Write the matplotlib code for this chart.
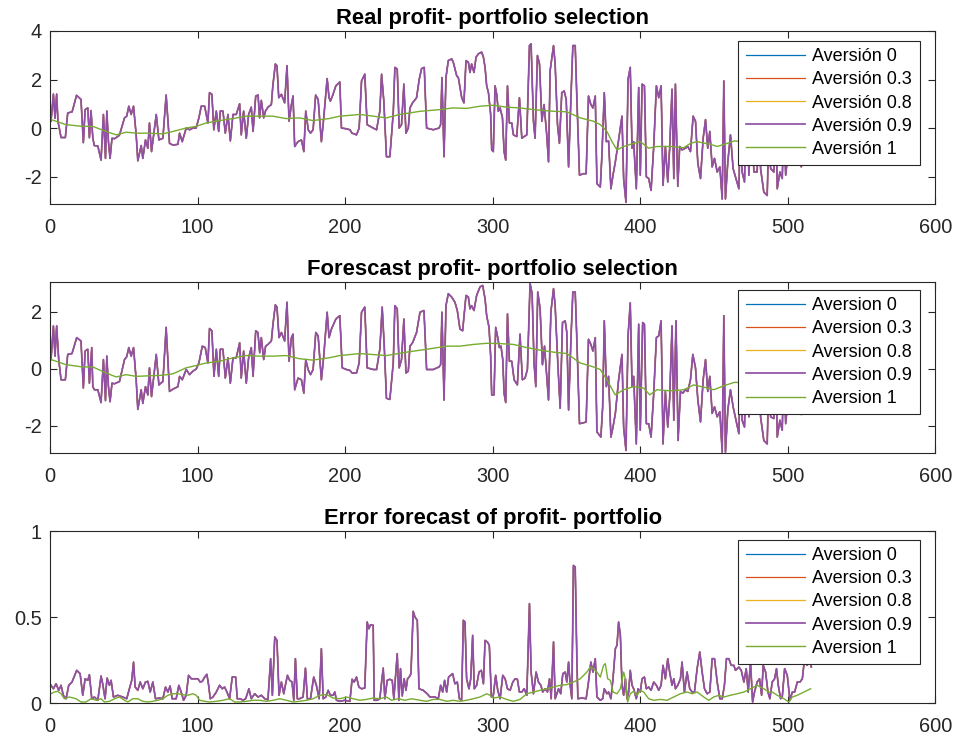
import matplotlib
matplotlib.use("Agg")
import matplotlib.pyplot as plt

plt.rcParams["font.family"] = ["Liberation Sans", "DejaVu Sans"]

# ---- data (x = sample index, y = value) ----
real_purple = [
    (0.7, 0.28), (2.3, 1.4), (3.4, 0.4), (4.5, 1.4), (5.4, 0.28), (7.5, -0.39), (10.4, -0.39), (12, 0.62),
    (15, 0.67), (18, 1.35), (21, 1.18), (22.6, -0.6), (23.8, 0.76), (25.6, 0.83), (26.7, -0.4), (27.8, 0.72),
    (29, -0.4), (30, -0.72), (32.4, -0.74), (34.6, -1.32), (36.2, 0.56), (37.6, -1.25), (38.5, 0.7),
    (39.6, -0.56), (40.7, -1.25), (42, -0.42), (43.7, -0.44), (47, -0.3), (50.5, 0.42), (52, 0.49),
    (53.4, 0.9), (55, 0.56), (56.6, 0.9), (58.4, -0.28), (59.5, -1.35), (61.8, -0.72), (62.9, -1.25),
    (64.7, -0.49), (66.3, -0.83), (67.4, 0.21), (68.8, -0.97), (72, 0.56), (73.8, -0.49), (76.5, -0.42),
    (78.7, 1.36), (81, -0.63), (83.3, -0.7), (86.7, -0.67), (87.8, -0.21), (89.6, -0.56), (92.3, 0),
    (94.6, -0.07), (96.8, 0), (99, 0), (100.9, 0.42), (102.5, 0.9), (104.8, 0.9), (107, 0.21), (108.1, 1.46),
    (109.7, 1.39), (111, -0.07), (112.7, 0.7), (114.3, -0.14), (115.4, 0.7), (117.2, 0.7), (118.8, -0.21),
    (120.6, 0.56), (122.2, -0.53), (124, 0.56), (126.2, 0.56), (128.5, 1.0), (129.6, -0.28), (131.2, 0.7),
    (133, -0.42), (134.6, 0.56), (136.4, 0.86), (137.6, -0.14), (139.4, 1.32), (141, 1.36), (142, 0.42),
    (143.2, 1.14), (144.8, 0.42), (146, 0.7), (147.7, 0.86), (150, 0.97), (151, 1.74), (152.7, 2.64),
    (153.8, 2.57), (155, 1.25), (156.8, 1.39), (159, 1.04), (160.6, 2.57), (162, 0.28), (163.6, 0.97),
    (164.7, 1.32), (165.8, -0.76), (168, -0.56), (170.4, -0.49), (172, -0.97), (173.3, 0.7), (175, -0.07),
    (176.5, -0.21), (178.3, -0.07), (180, 1.36), (181.7, 1.18),
    (183.9, -0.56), (185.5, 0.42), (187.8, 2.04), (189.1, 1.25), (190.0, 1.11), (191.8, 1.39), (193.7, 1.74),
    (196.4, 1.90), (197.5, 0.0), (200.9, -0.03), (203.2, -0.07), (204.7, -0.21), (207.7, -0.28), (209.5, 0.0),
    (211.1, 1.94), (213.3, 2.22), (214.9, 0.14), (219.0, 0.0), (221.3, -0.07), (223.5, 0.69), (224.7, 2.22),
    (226.2, 1.11), (228.0, -1.18), (230.3, -1.18), (232.6, 0.63), (233.7, 2.50), (235.3, 2.43), (236.6, 0.0),
    (238.2, 0.14), (239.8, 1.81), (241.2, -0.21), (242.8, 0.0), (243.9, 0.83), (245.7, 1.04), (248.4, 1.25),
    (250.2, 2.01), (251.8, 2.45), (253.6, 2.5), (255.2, 0.0), (259.7, -0.07), (263.6, 0.0), (264.7, 0.14),
    (265.6, 2.08), (267.0, -1.18), (268.3, 2.08), (269.9, 2.78), (272.2, 2.85), (273.3, 2.71), (275.6, 2.15),
    (276.7, 2.08), (279.0, 1.25), (280.5, 1.04), (281.9, 2.78), (283.5, 2.71), (284.6, 2.29), (285.7, 2.64),
    (287.3, 2.29), (288.7, 2.92), (290.3, 3.06), (292.5, 3.13), (293.7, 2.92), (294.8, 2.50), (295.9, 1.74),
    (297.1, 1.46), (298.6, 0.56), (299.3, -0.90), (300.4, -0.97), (301.6, 1.74), (302.7, 1.39), (303.8, 0.69),
    (305.0, 0.83), (306.6, 0.42), (307.7, -0.97), (308.8, -1.32), (310.0, 1.74), (311.3, 0.21), (312.9, 0.21),
    (314.0, -0.28), (316.3, -0.35), (318.1, 1.25), (319.7, -0.42), (321.3, -0.35), (323.1, -0.28),
    (324.9, 3.40), (326.0, 3.47), (327.6, 0.28), (328.7, -0.42), (330.3, 2.99), (331.7, 2.64), (333.3, 0.28),
    (334.8, 0.97), (336.6, -0.28), (337.8, -1.39), (338.9, 2.36), (341.2, 3.40), (342.3, 2.64), (343.9, 0.14),
    (345.2, -0.63), (346.8, 1.46), (348.4, 1.53), (349.8, 1.18), (351.4, -1.60), (353.0, 1.25), (354.3, 3.40),
    (355.9, 3.40), (357.0, 1.25), (358.8, -1.94), (361.5, -1.88), (363.3, -1.88), (364.9, 1.32), (366.5, 0.97),
    (367.9, 0.83), (369.5, 1.32),
    (370.6, -2.29), (372.9, -2.43), (374.0, -1.11), (375.6, 1.46), (377.0, -0.56), (378.5, -0.53),
    (380.1, -2.50), (381.5, -1.94), (383.1, -1.39), (385.3, -0.49), (387.6, 0.49), (388.7, -2.08),
    (390.3, -3.06), (391.7, 2.01), (393.2, 2.50), (394.4, -0.83), (395.5, -0.56), (397.3, -2.50), (398.9, 1.67),
    (400.0, -1.94), (401.2, 1.81), (402.8, 1.74), (404.1, -2.01), (405.7, -2.08), (407.3, -2.57), (409.1, -0.76),
    (410.9, 1.74), (412.5, 1.25), (414.1, 1.74), (415.4, -2.36), (417.0, -0.76), (418.6, -2.22), (419.9, -0.83),
    (421.5, 1.60), (422.7, -2.08), (423.8, 1.81), (425.4, -2.4), (426.7, -0.76), (428.3, -0.90), (430.6, -0.83),
    (432.2, -0.76), (434.0, -0.97), (435.8, 0.49), (437.4, 0.28), (439.0, -1.46), (440.8, -2.08), (442.6, -0.42),
    (444.2, 0.35), (445.7, -0.83), (447.1, -0.14), (448.7, -1.60), (450.3, -1.25), (452.1, -1.81), (453.9, -1.60),
    (455.5, -2.92), (456.6, 1.94), (457.7, -2.92), (459.3, -1.39), (461.1, -0.28), (462.9, -1.67), (466.8, -2.50),
    (467.9, 0.5), (469.0, -1.81), (470.6, -2.22), (472.0, 1.2), (473.6, -1.94), (475.1, 0.6), (477.0, -1.81),
    (479.2, -1.81), (480.4, 1.9), (481.5, -1.67), (483.7, -2.64), (486.0, -2.78), (487.1, -0.1), (488.3, -1.67),
    (490.5, -1.81), (491.7, 1.3), (492.8, -2.50), (494.6, -1.81), (496.2, -2.08), (497.3, 0.5), (498.5, -1.94),
    (501.8, -0.1), (505.2, -0.8), (509.1, -1.60), (512.0, -0.56), (514.3, -0.8),
]

real_green = [
    (0.7, 0.35), (10.9, 0.14), (22, 0.07), (29, 0.07), (38, -0.14), (44.8, -0.28), (51.6, -0.17), (58.4, -0.21),
    (67.4, -0.21), (76.5, -0.24), (83.3, -0.14), (92.3, 0), (99, 0.07), (105.9, 0.21), (114.9, 0.31), (124, 0.39),
    (133, 0.49), (142, 0.49), (151, 0.49), (160, 0.39), (169, 0.42), (178, 0.31), (189, 0.39), (196.4, 0.49),
    (210, 0.56), (228, 0.42), (237, 0.56), (250.7, 0.69), (264.2, 0.76), (273.3, 0.83), (282.3, 0.81),
    (291.4, 0.90), (300.4, 0.94), (309.5, 0.86), (318.5, 0.83), (327.6, 0.76), (341.2, 0.69), (350.2, 0.67),
    (359.3, 0.42), (368.3, 0.28), (372.9, 0.14), (377.4, -0.14), (380.8, -0.56), (384.2, -0.90), (388.7, -0.76),
    (395.5, -0.63), (400, -0.56), (405.7, -0.83), (411.3, -0.76), (420.4, -0.76), (429.4, -0.81), (434, -0.63),
    (438.5, -0.56), (447.5, -0.67), (452.1, -0.76), (458.9, -0.63), (463.8, -0.53), (475, -0.6), (490, -0.7),
    (505, -0.65), (515, -0.6),
]

fcst_purple = [
    (0.7, 0.33), (2.3, 1.51), (3.4, 0.45), (4.5, 1.51), (5.9, 0.33), (7.5, -0.38), (10.4, -0.38), (12.0, 0.51),
    (14.9, 0.54), (18.1, 1.10), (21.0, 0.98), (22.6, -0.67), (23.8, 0.63), (25.6, 0.69), (26.7, -0.50),
    (28.3, 0.75), (29.0, -0.62), (30.1, -0.73), (32.4, -0.73), (34.6, -1.18), (36.2, 0.33), (37.6, -1.11),
    (38.5, 0.45), (39.6, -0.62), (40.7, -1.15), (42.0, -0.50), (43.7, -0.52), (47.1, -0.44), (50.5, 0.33),
    (52.0, 0.43), (53.4, 0.75), (55.0, 0.45), (56.6, 0.75), (58.4, -0.38), (59.5, -1.42), (61.8, -0.73),
    (62.9, -1.21), (64.7, -0.62), (66.3, -0.91), (67.4, 0.04), (68.8, -0.97), (72.0, 0.51), (73.8, -0.56),
    (76.5, -0.44), (78.7, 1.46), (81.0, -0.79), (83.3, -0.71), (86.7, -0.62), (87.8, -0.26), (89.6, -0.38),
    (92.3, -0.02), (94.6, -0.20), (96.8, -0.08), (99.1, 0.0), (100.9, 0.21), (103.2, 0.80), (105.2, 0.75),
    (107.0, 0.21), (108.1, 1.42), (109.7, 1.34), (111.1, -0.26), (112.7, 0.69), (114.3, -0.26), (115.4, 0.69),
    (117.2, 0.69), (118.8, -0.32), (120.6, 0.39), (122.2, -0.50), (124.0, 0.39), (126.2, 0.39), (128.5, 0.92),
    (129.6, -0.32), (131.2, 0.63), (133.0, -0.50), (134.6, 0.39), (136.4, 0.75), (137.6, -0.26), (139.4, 1.34),
    (140.9, 1.28), (142.1, 0.57), (143.2, 1.10), (144.8, 0.33), (146.1, 0.80), (147.7, 0.86), (150.0, 0.98),
    (151.1, 1.57), (152.7, 2.25), (153.8, 2.17), (155.2, 1.10), (156.8, 1.28), (159.0, 0.98), (160.6, 2.34),
    (162.0, 0.27), (163.6, 1.10), (164.7, 1.22), (165.8, -0.73), (168.1, -0.32), (170.4, -0.38), (172.0, -0.85),
    (173.3, 0.33), (174.9, -0.02), (176.5, -0.20), (178.3, -0.02), (180.1, 1.28), (181.7, 1.16),
    (183.9, -0.38), (185.5, 0.45), (187.8, 1.99), (189.1, 1.10), (190.7, 1.40), (193.7, 1.75), (196.4, 1.87),
    (198.0, 0.04), (200.9, -0.02), (203.2, -0.05), (204.7, -0.14), (207.7, -0.14), (209.5, 0.21), (211.1, 1.99),
    (213.3, 2.17), (214.9, 0.04), (219.0, -0.02), (221.3, -0.02), (223.5, 0.69), (225.1, 2.17), (226.5, 0.80),
    (228.0, -1.03), (230.3, -1.07), (232.6, 0.21), (233.7, 2.22), (235.3, 2.11), (236.6, 0.04), (238.2, 0.33),
    (239.8, 1.75), (241.2, -0.14), (242.8, -0.08), (243.9, 0.80), (245.7, 0.92), (248.4, 1.28), (250.7, 1.99),
    (253.4, 2.05), (255.2, -0.02), (259.7, -0.02), (263.6, 0.07), (264.7, 0.15), (265.6, 1.99), (267.0, -1.09),
    (268.3, 2.22), (269.9, 2.64), (272.2, 2.52), (274.4, 2.34), (276.0, 2.05), (277.8, 1.40), (279.6, 1.34),
    (281.9, 2.58), (283.5, 2.52), (284.6, 2.11), (285.7, 2.22), (287.3, 2.05), (289.1, 2.58), (291.4, 2.88),
    (293.2, 2.93), (294.8, 2.46), (295.9, 1.87), (297.5, 1.46), (298.6, 0.45), (299.3, -0.91), (300.9, -0.91),
    (302.0, 1.46), (303.4, 1.10), (304.5, 0.75), (305.6, 0.80), (306.8, 0.33), (307.7, -0.85), (308.8, -1.18),
    (310.0, 1.93), (311.3, 0.27), (312.9, 0.27), (314.5, -0.38), (316.7, -0.56), (318.5, 1.22), (320.1, -0.38),
    (321.9, -0.32), (323.5, -0.02), (325.3, 3.0), (326.7, 2.64), (328.0, 0.21), (329.2, -0.62), (330.5, 2.70),
    (332.1, 2.11), (333.7, 0.15), (335.1, 0.80), (336.6, -0.26), (337.8, -1.09), (339.4, 1.99), (341.2, 2.82),
    (342.3, 2.22), (344.1, 0.21), (345.7, -1.38), (347.3, 1.63), (349.1, 1.69), (350.2, 1.28), (351.4, -1.44),
    (353.0, 1.04), (354.3, 2.70), (355.9, 2.70), (357.0, 1.04), (358.8, -1.92), (361.5, -1.89), (363.3, -1.86),
    (364.9, 1.04), (366.5, 0.86), (367.9, 0.63), (369.5, 1.10),
    (370.6, -2.21), (373.3, -2.39), (374.5, -1.33), (375.6, 1.69), (377.0, -0.62), (378.5, -0.26),
    (380.1, -2.39), (381.5, -2.04), (383.1, -1.56), (385.3, -0.38), (387.6, 0.51), (388.7, -2.04),
    (390.3, -2.86), (391.7, 1.16), (393.2, 2.32), (394.4, -0.62), (395.5, -0.26), (397.3, -2.63), (398.9, 1.57),
    (400.0, -2.15), (401.6, 1.63), (402.8, 1.57), (404.1, -1.92), (405.7, -1.92), (407.3, -2.39), (409.1, -0.85),
    (410.9, 1.10), (412.5, 1.16), (414.1, 1.69), (415.4, -2.63), (417.0, -0.79), (418.6, -2.04), (419.9, -1.03),
    (421.5, 1.51), (422.7, -1.80), (424.2, 1.69), (425.6, -2.51), (427.2, -0.79), (428.8, -0.85), (430.6, -0.73),
    (432.2, -0.79), (434.0, -0.38), (435.6, 0.51), (437.4, 0.04), (439.0, -1.09), (440.8, -1.86), (442.6, -0.38),
    (444.2, 0.33), (445.7, -0.79), (447.1, -0.26), (448.7, -1.56), (450.3, -1.33), (452.1, -1.68), (453.9, -1.50),
    (455.5, -2.92), (456.6, 1.87), (457.7, -2.92), (459.3, -1.44), (461.1, -0.73), (462.9, -1.33), (466.8, -2.27),
    (467.9, 0.4), (469.0, -1.80), (470.6, -2.04), (472.0, 1.0), (473.6, -1.68), (475.1, 0.5), (477.0, -1.56),
    (479.2, -1.56), (480.4, 1.6), (481.5, -1.68), (483.7, -2.51), (486.0, -2.63), (487.1, -0.2), (488.3, -1.68),
    (490.5, -1.74), (491.7, 1.1), (492.8, -2.39), (494.6, -1.80), (496.2, -2.15), (497.3, 0.4), (498.5, -1.92),
    (501.8, -0.2), (505.2, -0.9), (509.1, -1.6), (512.0, -0.6), (514.3, -0.9),
]

fcst_green = [
    (0.7, 0.33), (10.9, 0.15), (22, 0.07), (29, 0.07), (38, -0.14), (44.8, -0.28), (51.6, -0.20), (58.4, -0.26),
    (67.4, -0.24), (76.5, -0.22), (83.3, -0.17), (92.3, 0.04), (99, 0.12), (105.9, 0.21), (114.9, 0.27),
    (124, 0.39), (133, 0.47), (142, 0.45), (151, 0.45), (160, 0.47), (169, 0.36), (178, 0.31), (189, 0.39),
    (196.4, 0.47), (210, 0.54), (228, 0.47), (241.6, 0.59), (255.2, 0.69), (268.8, 0.80), (277.8, 0.80),
    (286.9, 0.86), (295.9, 0.90), (305, 0.89), (314, 0.86), (323.1, 0.75), (332.1, 0.66), (341.2, 0.59),
    (350.2, 0.54), (359.3, 0.21), (368.3, 0.07), (372.9, -0.02), (377.4, -0.38), (383, -0.91), (388.7, -0.73),
    (395.5, -0.62), (402.3, -0.67), (406.4, -0.91), (411.3, -0.73), (420.4, -0.77), (429.4, -0.73),
    (436.2, -0.56), (443, -0.64), (449.8, -0.73), (456.6, -0.59), (463.8, -0.47), (475, -0.5), (490, -0.6),
    (505, -0.55), (515, -0.5),
]

err_purple = [
    (0.7, 0.103), (2.3, 0.083), (4.1, 0.112), (5.9, 0.074), (7.5, 0.103), (9.0, 0.045), (10.9, 0.025),
    (12.7, 0.103), (14.9, 0.122), (18.1, 0.190), (20.4, 0.171), (22.2, 0.045), (23.8, 0.141), (25.6, 0.132),
    (26.7, 0.165), (28.3, 0.025), (30.1, 0.035), (32.4, 0.016), (34.6, 0.157), (35.7, 0.112), (37.3, 0.025),
    (38.7, 0.145), (40.3, 0.103), (41.4, 0.132), (43.0, 0.035), (45.9, 0.045), (49.3, 0.035), (52.0, 0.025),
    (53.8, 0.083), (55.4, 0.132), (56.6, 0.238), (57.7, 0.093), (59.5, 0.074), (61.1, 0.122), (62.9, 0.083),
    (64.7, 0.122), (66.3, 0.126), (67.9, 0.064), (69.7, 0.122), (71.5, 0.025), (74.2, 0.029), (76.5, 0.025),
    (78.3, 0.093), (79.9, 0.064), (81.4, 0.099), (82.8, 0.025), (85.5, 0.025), (87.3, 0.103), (88.9, 0.064),
    (90.5, 0.016), (92.3, 0.045), (93.9, 0.161), (95.7, 0.141), (98.6, 0.141), (100.2, 0.141), (101.8, 0.122),
    (103.2, 0.126), (104.8, 0.151), (106.3, 0.167), (107.5, 0.103), (108.6, 0.025), (110.4, 0.035),
    (112.7, 0.064), (114.9, 0.103), (116.7, 0.083), (118.3, 0.093), (119.9, 0.064), (121.7, 0.025),
    (123.5, 0.151), (125.8, 0.151), (126.9, 0.025), (129.0, 0.025), (130.8, 0.016), (132.6, 0.025),
    (134.8, 0.083), (136.4, 0.025), (138.7, 0.054), (141.0, 0.035), (143.2, 0.045), (145.5, 0.025),
    (147.7, 0.019), (149.5, 0.258), (150.7, 0.045), (152.3, 0.384), (153.8, 0.364), (155.2, 0.045),
    (156.8, 0.122), (158.4, 0.054), (159.5, 0.103), (160.9, 0.161), (162.4, 0.132), (164.0, 0.122),
    (165.2, 0.016), (166.3, 0.258), (167.6, 0.025), (169.2, 0.025), (171.5, 0.035), (173.1, 0.203),
    (174.4, 0.025), (176.5, 0.025), (178.7, 0.151), (180.5, 0.103), (182.4, 0.025),
    (183.9, 0.316), (185.1, 0.025), (186.9, 0.035), (188.5, 0.074), (190.0, 0.045), (191.8, 0.045),
    (193.0, 0.064), (194.1, 0.016), (196.4, 0.010), (199.8, 0.016), (203.2, 0.010), (204.7, 0.138),
    (206.1, 0.122), (207.7, 0.151), (209.3, 0.093), (211.1, 0.083), (213.3, 0.087), (214.9, 0.471),
    (216.1, 0.432), (217.2, 0.455), (219.0, 0.452), (219.7, 0.016), (221.7, 0.016), (223.5, 0.025),
    (224.7, 0.122), (225.8, 0.203), (226.9, 0.025), (228.5, 0.132), (230.3, 0.138), (231.9, 0.132),
    (233.0, 0.025), (234.4, 0.180), (235.3, 0.287), (236.4, 0.016), (237.5, 0.200), (238.7, 0.041),
    (240.0, 0.141), (241.2, 0.074), (242.3, 0.141), (243.4, 0.151), (244.6, 0.171), (246.1, 0.533),
    (247.3, 0.500), (248.9, 0.481), (250.0, 0.083), (252.9, 0.074), (255.6, 0.054), (257.5, 0.035),
    (260.9, 0.035), (263.1, 0.025), (264.7, 0.103), (266.1, 0.064), (267.4, 0.132), (268.8, 0.064),
    (270.1, 0.151), (271.5, 0.161), (272.8, 0.171), (274.4, 0.112), (276.0, 0.122), (277.4, 0.025),
    (278.9, 0.016), (280.1, 0.481), (281.2, 0.471), (282.3, 0.141), (283.9, 0.083), (285.1, 0.141),
    (286.4, 0.393), (287.5, 0.083), (289.1, 0.103), (290.7, 0.180), (292.3, 0.190), (293.7, 0.112),
    (294.8, 0.364), (296.4, 0.355), (297.7, 0.335), (299.1, 0.035), (300.4, 0.045), (302.0, 0.161),
    (303.4, 0.074), (305.0, 0.025), (306.8, 0.161), (308.4, 0.141), (310.0, 0.083), (311.8, 0.074),
    (313.6, 0.122), (315.2, 0.141), (316.7, 0.138), (318.1, 0.064), (319.7, 0.064), (321.3, 0.083),
    (323.1, 0.045), (324.9, 0.578), (326.0, 0.180), (327.6, 0.054), (329.4, 0.180), (331.0, 0.122),
    (332.6, 0.103), (333.9, 0.064), (335.5, 0.083), (337.1, 0.064), (338.5, 0.141), (339.6, 0.025),
    (341.2, 0.355), (342.3, 0.025), (344.6, 0.083), (346.1, 0.054), (347.5, 0.171), (349.1, 0.180),
    (350.2, 0.122), (351.4, 0.238), (352.5, 0.103), (353.6, 0.025), (354.7, 0.800), (355.9, 0.791),
    (357.0, 0.258), (357.7, 0.025), (360.4, 0.029), (363.3, 0.025), (364.9, 0.122), (366.5, 0.238),
    (367.9, 0.180), (369.5, 0.258),
    (370.6, 0.035), (372.9, 0.016), (374.5, 0.025), (375.6, 0.083), (377.4, 0.054), (378.5, 0.064),
    (380.1, 0.025), (381.5, 0.141), (383.1, 0.316), (384.2, 0.335), (385.3, 0.471), (386.5, 0.393),
    (387.6, 0.103), (388.7, 0.045), (389.9, 0.141), (391.0, 0.025), (392.1, 0.064), (393.2, 0.190),
    (394.4, 0.103), (395.5, 0.083), (397.3, 0.025), (398.5, 0.083), (400.0, 0.064), (401.2, 0.141),
    (402.8, 0.151), (404.1, 0.083), (405.7, 0.093), (407.3, 0.074), (409.1, 0.122), (410.9, 0.103),
    (412.5, 0.074), (414.1, 0.103), (415.4, 0.219), (417.0, 0.141), (418.6, 0.258), (419.9, 0.180),
    (421.5, 0.103), (422.7, 0.141), (423.8, 0.083), (425.4, 0.103), (427.2, 0.141), (428.3, 0.238),
    (429.9, 0.064), (431.7, 0.180), (433.5, 0.083), (435.1, 0.064), (436.7, 0.064), (438.5, 0.200),
    (440.3, 0.297), (441.9, 0.180), (443.5, 0.083), (445.3, 0.054), (447.1, 0.064), (448.7, 0.258),
    (450.3, 0.258), (452.1, 0.122), (453.9, 0.025), (455.5, 0.025), (457.0, 0.103), (458.4, 0.258),
    (460.0, 0.258), (461.6, 0.219), (463.4, 0.219), (464.5, 0.190), (466.8, 0.209), (468.4, 0.190),
    (470.2, 0.122), (471.8, 0.200), (473.1, 0.064), (474.7, 0.238), (476.1, 0.006), (477.4, 0.064),
    (479.2, 0.122), (480.8, 0.141), (482.2, 0.045), (483.3, 0.219), (484.9, 0.180), (486.5, 0.064),
    (487.8, 0.025), (489.4, 0.122), (491.0, 0.141), (492.3, 0.200), (493.5, 0.103), (495.1, 0.025),
    (496.2, 0.035), (497.8, 0.200), (499.6, 0.161), (501.4, 0.016), (503.0, 0.064), (504.6, 0.064),
    (506.4, 0.122), (508.2, 0.122), (509.8, 0.141), (511.3, 0.258), (513.1, 0.219), (514.9, 0.258),
    (515.9, 0.209),
]

err_green = [
    (0.7, 0.054), (2.9, 0.064), (5.2, 0.068), (7.5, 0.054), (9.7, 0.025), (13.1, 0.035), (17.6, 0.025),
    (21, 0.006), (24.4, 0.006), (27.8, 0.025), (31.2, 0.016), (34.6, 0.025), (36.9, 0.006), (40.3, 0.010),
    (43.7, 0.025), (47.1, 0.035), (50.5, 0.016), (52.7, 0.006), (56.1, 0.025), (59.5, 0.025), (62.9, 0.010),
    (66.3, 0.006), (69.7, 0.010), (73.1, 0.016), (76.5, 0.025), (79.9, 0.045), (83.3, 0.054), (86.7, 0.054),
    (90.0, 0.048), (93.4, 0.045), (96.8, 0.054), (99.1, 0.045), (101.4, 0.016), (104.8, 0.010), (108.1, 0.006),
    (112.7, 0.010), (117.2, 0.016), (121.7, 0.025), (125.1, 0.006), (128.5, 0.006), (133.0, 0.010),
    (137.6, 0.016), (142.1, 0.016), (146.6, 0.010), (151.1, 0.016), (155.7, 0.025), (160.2, 0.016),
    (164.7, 0.006), (169.2, 0.010), (173.8, 0.016), (178.3, 0.025), (182.8, 0.045), (187.3, 0.050),
    (191.8, 0.029), (196.4, 0.025), (200.9, 0.035), (205.4, 0.025), (210.0, 0.016), (214.5, 0.021),
    (219.0, 0.029), (223.5, 0.025), (228.0, 0.035), (231.4, 0.016), (236.0, 0.025), (240.5, 0.016),
    (245.0, 0.025), (250.7, 0.016), (255.2, 0.010), (259.7, 0.021), (264.2, 0.021), (268.8, 0.010),
    (273.3, 0.016), (277.8, 0.010), (282.3, 0.016), (286.9, 0.025), (291.4, 0.035), (295.9, 0.054),
    (298.2, 0.045), (300.4, 0.029), (305.0, 0.035), (309.5, 0.021), (314.0, 0.010), (318.5, 0.021),
    (323.1, 0.054), (327.6, 0.064), (332.1, 0.074), (336.6, 0.083), (341.2, 0.093), (345.7, 0.103),
    (350.2, 0.107), (354.7, 0.122), (359.3, 0.141), (363.8, 0.180), (366.1, 0.209), (367.9, 0.200),
    (370.6, 0.180), (372.9, 0.151), (375.1, 0.219), (376.3, 0.229), (377.9, 0.141), (379.7, 0.132),
    (381.5, 0.064), (384.2, 0.054), (386.5, 0.083), (388.7, 0.180), (389.9, 0.141), (391.4, 0.006),
    (393.2, 0.054), (395.5, 0.068), (397.8, 0.045), (400.0, 0.074), (402.3, 0.064), (405.7, 0.025),
    (409.1, 0.016), (413.6, 0.021), (418.1, 0.016), (422.7, 0.035), (427.2, 0.054), (431.7, 0.064),
    (435.1, 0.054), (438.5, 0.064), (443.0, 0.035), (446.4, 0.016), (449.8, 0.035), (453.2, 0.045),
    (456.6, 0.035), (461.1, 0.045), (465.6, 0.054), (470.2, 0.064), (474.7, 0.083), (479.2, 0.103),
    (483.7, 0.083), (487.1, 0.064), (489.4, 0.064), (492.8, 0.045), (497.3, 0.025), (500.7, 0.006),
    (503.0, 0.035), (506.4, 0.045), (510.9, 0.064), (515.4, 0.083),
]

aversions = ["0", "0.3", "0.8", "0.9", "1"]
colors = ["#0072BD", "#D95319", "#EDB120", "#9050A5", "#77AC30"]

titles = ["Real profit- portfolio selection",
          "Forescast profit- portfolio selection",
          "Error forecast of profit- portfolio"]
label_words = ["Aversión", "Aversion", "Aversion"]
panels = [(real_purple, real_green), (fcst_purple, fcst_green), (err_purple, err_green)]
ylims = [(-3.13, 4), (-2.95, 3.05), (0, 1)]
yticks = [[-2, 0, 2, 4], [-2, 0, 2], [0, 0.5, 1]]
ytick_labels = [["-2", "0", "2", "4"], ["-2", "0", "2"], ["0", "0.5", "1"]]

fig = plt.figure(figsize=(9.56, 7.36), dpi=100)
boxes = [(0.0523, 0.7228, 0.9262, 0.2351),
         (0.0523, 0.3845, 0.9262, 0.2323),
         (0.0523, 0.0448, 0.9262, 0.2337)]
leg_anchor = [(0.982, 0.942), (0.982, 0.953), (0.982, 0.948)]

for i in range(3):
    ax = fig.add_axes(boxes[i])
    main, smooth = panels[i]
    mx = [p[0] for p in main]
    my = [p[1] for p in main]
    sx = [p[0] for p in smooth]
    sy = [p[1] for p in smooth]
    # the first four aversion levels give almost the same curve; 0.9 is drawn on top
    for k in range(4):
        ax.plot(mx, my, color=colors[k], linewidth=1.25 if k == 3 else 0.9,
                label=label_words[i] + " " + aversions[k])
    ax.plot(sx, sy, color=colors[4], linewidth=1.0,
            label=label_words[i] + " " + aversions[4])

    ax.set_xlim(0, 600)
    ax.set_ylim(*ylims[i])
    ax.set_xticks(range(0, 601, 100))
    ax.set_yticks(yticks[i])
    ax.set_yticklabels(ytick_labels[i])
    ax.tick_params(direction="in", top=True, right=True, labelsize=14.4,
                   length=5, width=0.8, colors="#262626")
    ax.tick_params(axis="x", pad=10)
    ax.tick_params(axis="y", pad=6)
    for s in ax.spines.values():
        s.set_color("#262626")
        s.set_linewidth(0.8)
    ax.set_title(titles[i], fontsize=15.8, fontweight="bold", pad=5)

    leg = ax.legend(loc="upper right", bbox_to_anchor=leg_anchor[i], borderaxespad=0,
                    fontsize=13, handlelength=3.3, handletextpad=0.4, labelspacing=0.34,
                    fancybox=False, framealpha=1, edgecolor="#262626", borderpad=0.4)
    leg.get_frame().set_linewidth(0.8)

fig.savefig("out.png", dpi=100)
